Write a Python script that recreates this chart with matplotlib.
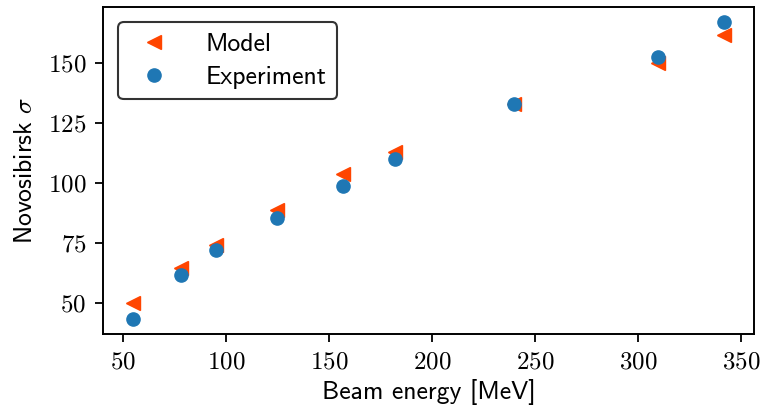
import matplotlib
matplotlib.use("Agg")
import matplotlib.pyplot as plt

# beam energy [MeV] and widths
energy = [55, 78, 95, 125, 157, 182, 240, 310, 342]
model_sigma = [50.0, 64.5, 73.9, 88.8, 103.8, 112.9, 133.0, 149.9, 161.7]
exp_sigma = [43.2, 61.4, 71.8, 85.3, 98.7, 110.0, 132.9, 152.4, 167.1]

plt.rcParams['mathtext.fontset'] = 'cm'
plt.rcParams['font.family'] = ['cmss10', 'DejaVu Sans']
plt.rcParams['axes.formatter.use_mathtext'] = True
plt.rcParams['axes.unicode_minus'] = False

fig, ax = plt.subplots(figsize=(7.63, 4.13), dpi=100)
fig.subplots_adjust(left=0.135, right=0.988, top=0.983, bottom=0.192)

ax.plot(energy, model_sigma, '<', color='#ff4500', markersize=9.5, label='Model')
ax.plot(energy, exp_sigma, 'o', color='#1f77b4', markersize=9.5, label='Experiment')

ax.set_xlim(40.3, 356.3)
ax.set_ylim(37.1, 173.3)
ax.set_xticks([50, 100, 150, 200, 250, 300, 350])
ax.set_yticks([50, 75, 100, 125, 150])
ax.set_xticklabels(['$%d$' % t for t in ax.get_xticks()])
ax.set_yticklabels(['$%d$' % t for t in ax.get_yticks()])
ax.tick_params(labelsize=18, width=1.3, length=5.5, pad=6.5)
for s in ax.spines.values():
    s.set_linewidth(1.4)

ax.set_xlabel('Beam energy [MeV]', fontsize=18.5, labelpad=4)
ax.set_ylabel(r'Novosibirsk $\sigma$', fontsize=18.5, labelpad=8)

leg = ax.legend(loc='upper left', fontsize=18.5, frameon=True, fancybox=True,
                framealpha=1, borderpad=0.4, handletextpad=1.0, borderaxespad=0.6,
                labelspacing=0.4)
leg.get_frame().set_edgecolor('#333333')
leg.get_frame().set_linewidth(1.5)

plt.savefig('out.png', dpi=100)
